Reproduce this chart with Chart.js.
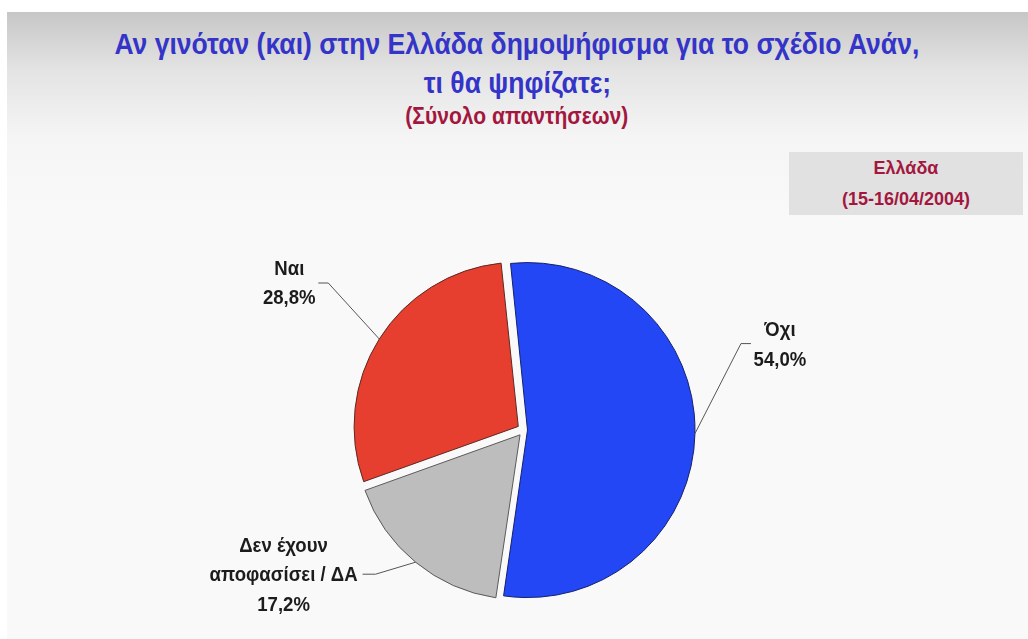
<!DOCTYPE html>
<html><head><meta charset="utf-8">
<script src="https://cdn.jsdelivr.net/npm/chart.js@4"></script>
<style>
html,body{margin:0;padding:0;width:1028px;height:639px;overflow:hidden;background:#fff;font-family:"Liberation Sans",Arial,sans-serif;}
#bg{position:absolute;left:7px;top:12px;right:0;bottom:0;background:linear-gradient(#c6c6c6 0px,#e4e4e4 60px,#f5f5f5 125px,#f9f9f9 200px);}
.t{position:absolute;left:0;width:1034px;text-align:center;font-weight:bold;white-space:nowrap}
.t span{display:inline-block;transform:scaleX(.915);transform-origin:50% 50%}
#l1,#l2{font-size:29px;line-height:29px;color:#3434c8}
#l1{top:30px}
#l2{top:69px}
#sub{font-size:23px;line-height:23px;top:105px;color:#a3173f}
#box{position:absolute;left:789px;top:152px;width:234px;height:63px;background:#e1e1e1;color:#a3173f;font-weight:bold;font-size:18px;text-align:center}
#box div{position:absolute;left:0;width:234px;line-height:18px}
#canvas{position:absolute;left:0;top:0}
</style>
</head><body>
<div id="bg"></div>
<div class="t" id="l1"><span>Αν γινόταν (και) στην Ελλάδα δημοψήφισμα για το σχέδιο Ανάν,</span></div>
<div class="t" id="l2"><span>τι θα ψηφίζατε;</span></div>
<div class="t" id="sub"><span>(Σύνολο απαντήσεων)</span></div>
<div id="box"><div style="top:7px">Ελλάδα</div><div style="top:38px">(15-16/04/2004)</div></div>
<canvas id="canvas" width="1028" height="639"></canvas>
<script>
// ---- data ----
const categories = ['Όχι', 'Δεν έχουν αποφασίσει / ΔΑ', 'Ναι'];
const labelLines = [['Όχι'], ['Δεν έχουν', 'αποφασίσει / ΔΑ'], ['Ναι']];
const values = [54.0, 17.2, 28.8];

// ---- styles ----
const fillColors = ['#2347f4', '#bdbdbd', '#e63f30'];
const edgeColors = ['#14206e', '#5a5a5a', '#5c2a22'];
const sliceOffsets = [14, 25, 27];
// label layout relative to the slice edge point at its mid angle
const labelLayout = [
  {elbow:[46,-90], end:[56,-90], text:[85,-103], step:30},
  {elbow:[-40,12], end:[-53,12], text:[-132,-16], step:29.5},
  {elbow:[-51,-56], end:[-61,-56], text:[-90,-70], step:29.5}
];

const labelPlugin = {
  id:'leaderLabels',
  afterDatasetsDraw(chart){
    const ctx = chart.ctx;
    const meta = chart.getDatasetMeta(0);
    meta.data.forEach((arc, i) => {
      const p = arc.getProps(['x','y','startAngle','endAngle','outerRadius','circumference'], true);
      const mid = (p.startAngle + p.endAngle) / 2;
      const off = (arc.options.offset || 0) / 4;
      const fix = 1 - Math.sin(Math.min(Math.PI, p.circumference || 0));
      const d = off + off * fix;
      const ex = p.x + Math.cos(mid) * (d + p.outerRadius);
      const ey = p.y + Math.sin(mid) * (d + p.outerRadius);
      const L = labelLayout[i];
      ctx.save();
      ctx.strokeStyle = '#555';
      ctx.lineWidth = 1;
      ctx.beginPath();
      ctx.moveTo(ex, ey);
      ctx.lineTo(ex + L.elbow[0], ey + L.elbow[1]);
      ctx.lineTo(ex + L.end[0], ey + L.end[1]);
      ctx.stroke();
      const lines = labelLines[i].concat([values[i].toFixed(1).replace('.', ',') + '%']);
      ctx.fillStyle = '#1c1c1c';
      ctx.font = 'bold 20px "Liberation Sans", Arial, sans-serif';
      ctx.textAlign = 'center';
      ctx.textBaseline = 'middle';
      lines.forEach((t, k) => {
        ctx.save();
        ctx.translate(ex + L.text[0], ey + L.text[1] + k * L.step);
        ctx.scale(0.93, 1);
        ctx.fillText(t, 0, 0);
        ctx.restore();
      });
      ctx.restore();
    });
  }
};

new Chart(document.getElementById('canvas'), {
  type: 'pie',
  data: {
    labels: categories,
    datasets: [{
      data: values,
      backgroundColor: fillColors,
      borderColor: edgeColors,
      borderWidth: 1,
      offset: sliceOffsets
    }]
  },
  options: {
    responsive: false,
    animation: false,
    rotation: -6,
    radius: 164,
    layout: {padding: {left: 20, right: 0, top: 240, bottom: 19}},
    plugins: {legend: {display: false}, tooltip: {enabled: false}}
  },
  plugins: [labelPlugin]
});
</script>
</body></html>
